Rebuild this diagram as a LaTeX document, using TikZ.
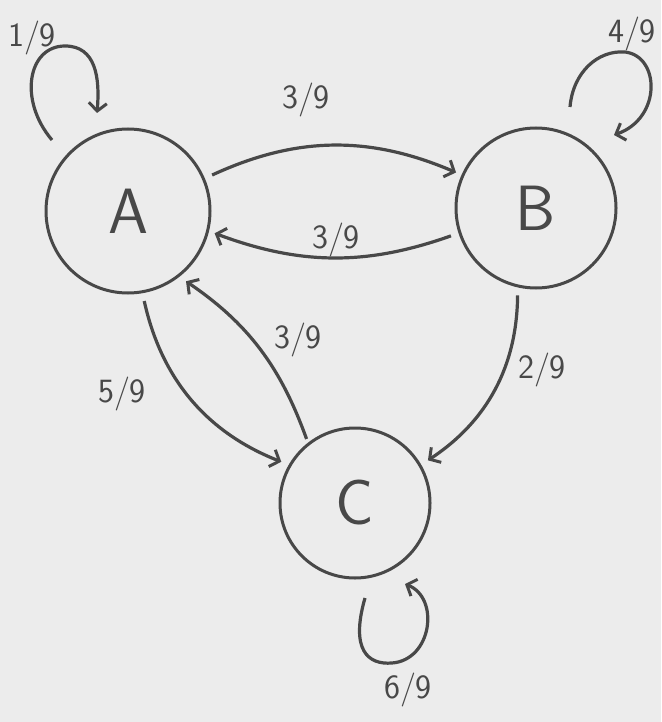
\documentclass[tikz,border=0pt]{standalone}
\usepackage{tikz}
\usetikzlibrary{arrows.meta,calc}

\definecolor{paper}{RGB}{236,236,236}
\definecolor{ink}{RGB}{72,72,72}

\begin{document}
\begin{tikzpicture}[x=1pt,y=-1pt,>={Straight Barb[length=8pt,width=18pt,line width=3pt]},
    state/.style={draw=ink,circle,line width=3pt,inner sep=0pt,text=ink,font=\sffamily\fontsize{64}{64}\selectfont},
    link/.style={ink,line width=3.2pt,->},
    prob/.style={ink,font=\sffamily\fontsize{34}{36}\selectfont}]
  % paper
  \fill[paper] (0,0) rectangle (661,722);
  \useasboundingbox (0,0) rectangle (661,722);

  % states
  \node[state,minimum size=164pt] (A) at (128,211) {A};
  \node[state,minimum size=160pt] (B) at (536,208) {B};
  \node[state,minimum size=150pt] (C) at (355,503) {C};

  % loose ends of the self loops
  \coordinate (loopA) at (52,140);
  \coordinate (loopB) at (570,107);
  \coordinate (loopC) at (365,598);

  % self loops
  \draw[link] (loopA) .. controls (18,100) and (28,46) .. (65,46)
    .. controls (96,46) and (100,78) .. (97,113);
  \draw[link] (loopB) .. controls (573,72) and (598,50) .. (625,52)
    .. controls (660,56) and (662,118) .. (614,135);
  \draw[link] (loopC) .. controls (350,650) and (368,665) .. (392,663)
    .. controls (432,660) and (440,598) .. (405,584);

  % transitions
  \draw[link,shorten <=8pt,shorten >=6pt] (A.23) to[bend left=24] (B.156);
  \draw[link,shorten <=8pt,shorten >=6pt] (B.198) to[bend left=20] (A.-14);
  \draw[link,shorten <=8pt,shorten >=8pt] (A.-80) to[bend right=28] (C.150);
  \draw[link,shorten <=4pt,shorten >=8pt] (C.128) to[bend right=18] (A.-52);
  \draw[link,shorten <=8pt,shorten >=8pt] (B.-103) to[bend left=28] (C.30);

  % probabilities
  \node[prob] (pAA) at (32,38) {1/9};
  \node[prob] (pBB) at (632,34) {4/9};
  \node[prob] (pAB) at (306,100) {3/9};
  \node[prob] (pBA) at (336,240) {3/9};
  \node[prob] (pCA) at (298,340) {3/9};
  \node[prob] (pAC) at (122,394) {5/9};
  \node[prob] (pBC) at (542,370) {2/9};
  \node[prob] (pCC) at (408,690) {6/9};
\end{tikzpicture}
\end{document}
